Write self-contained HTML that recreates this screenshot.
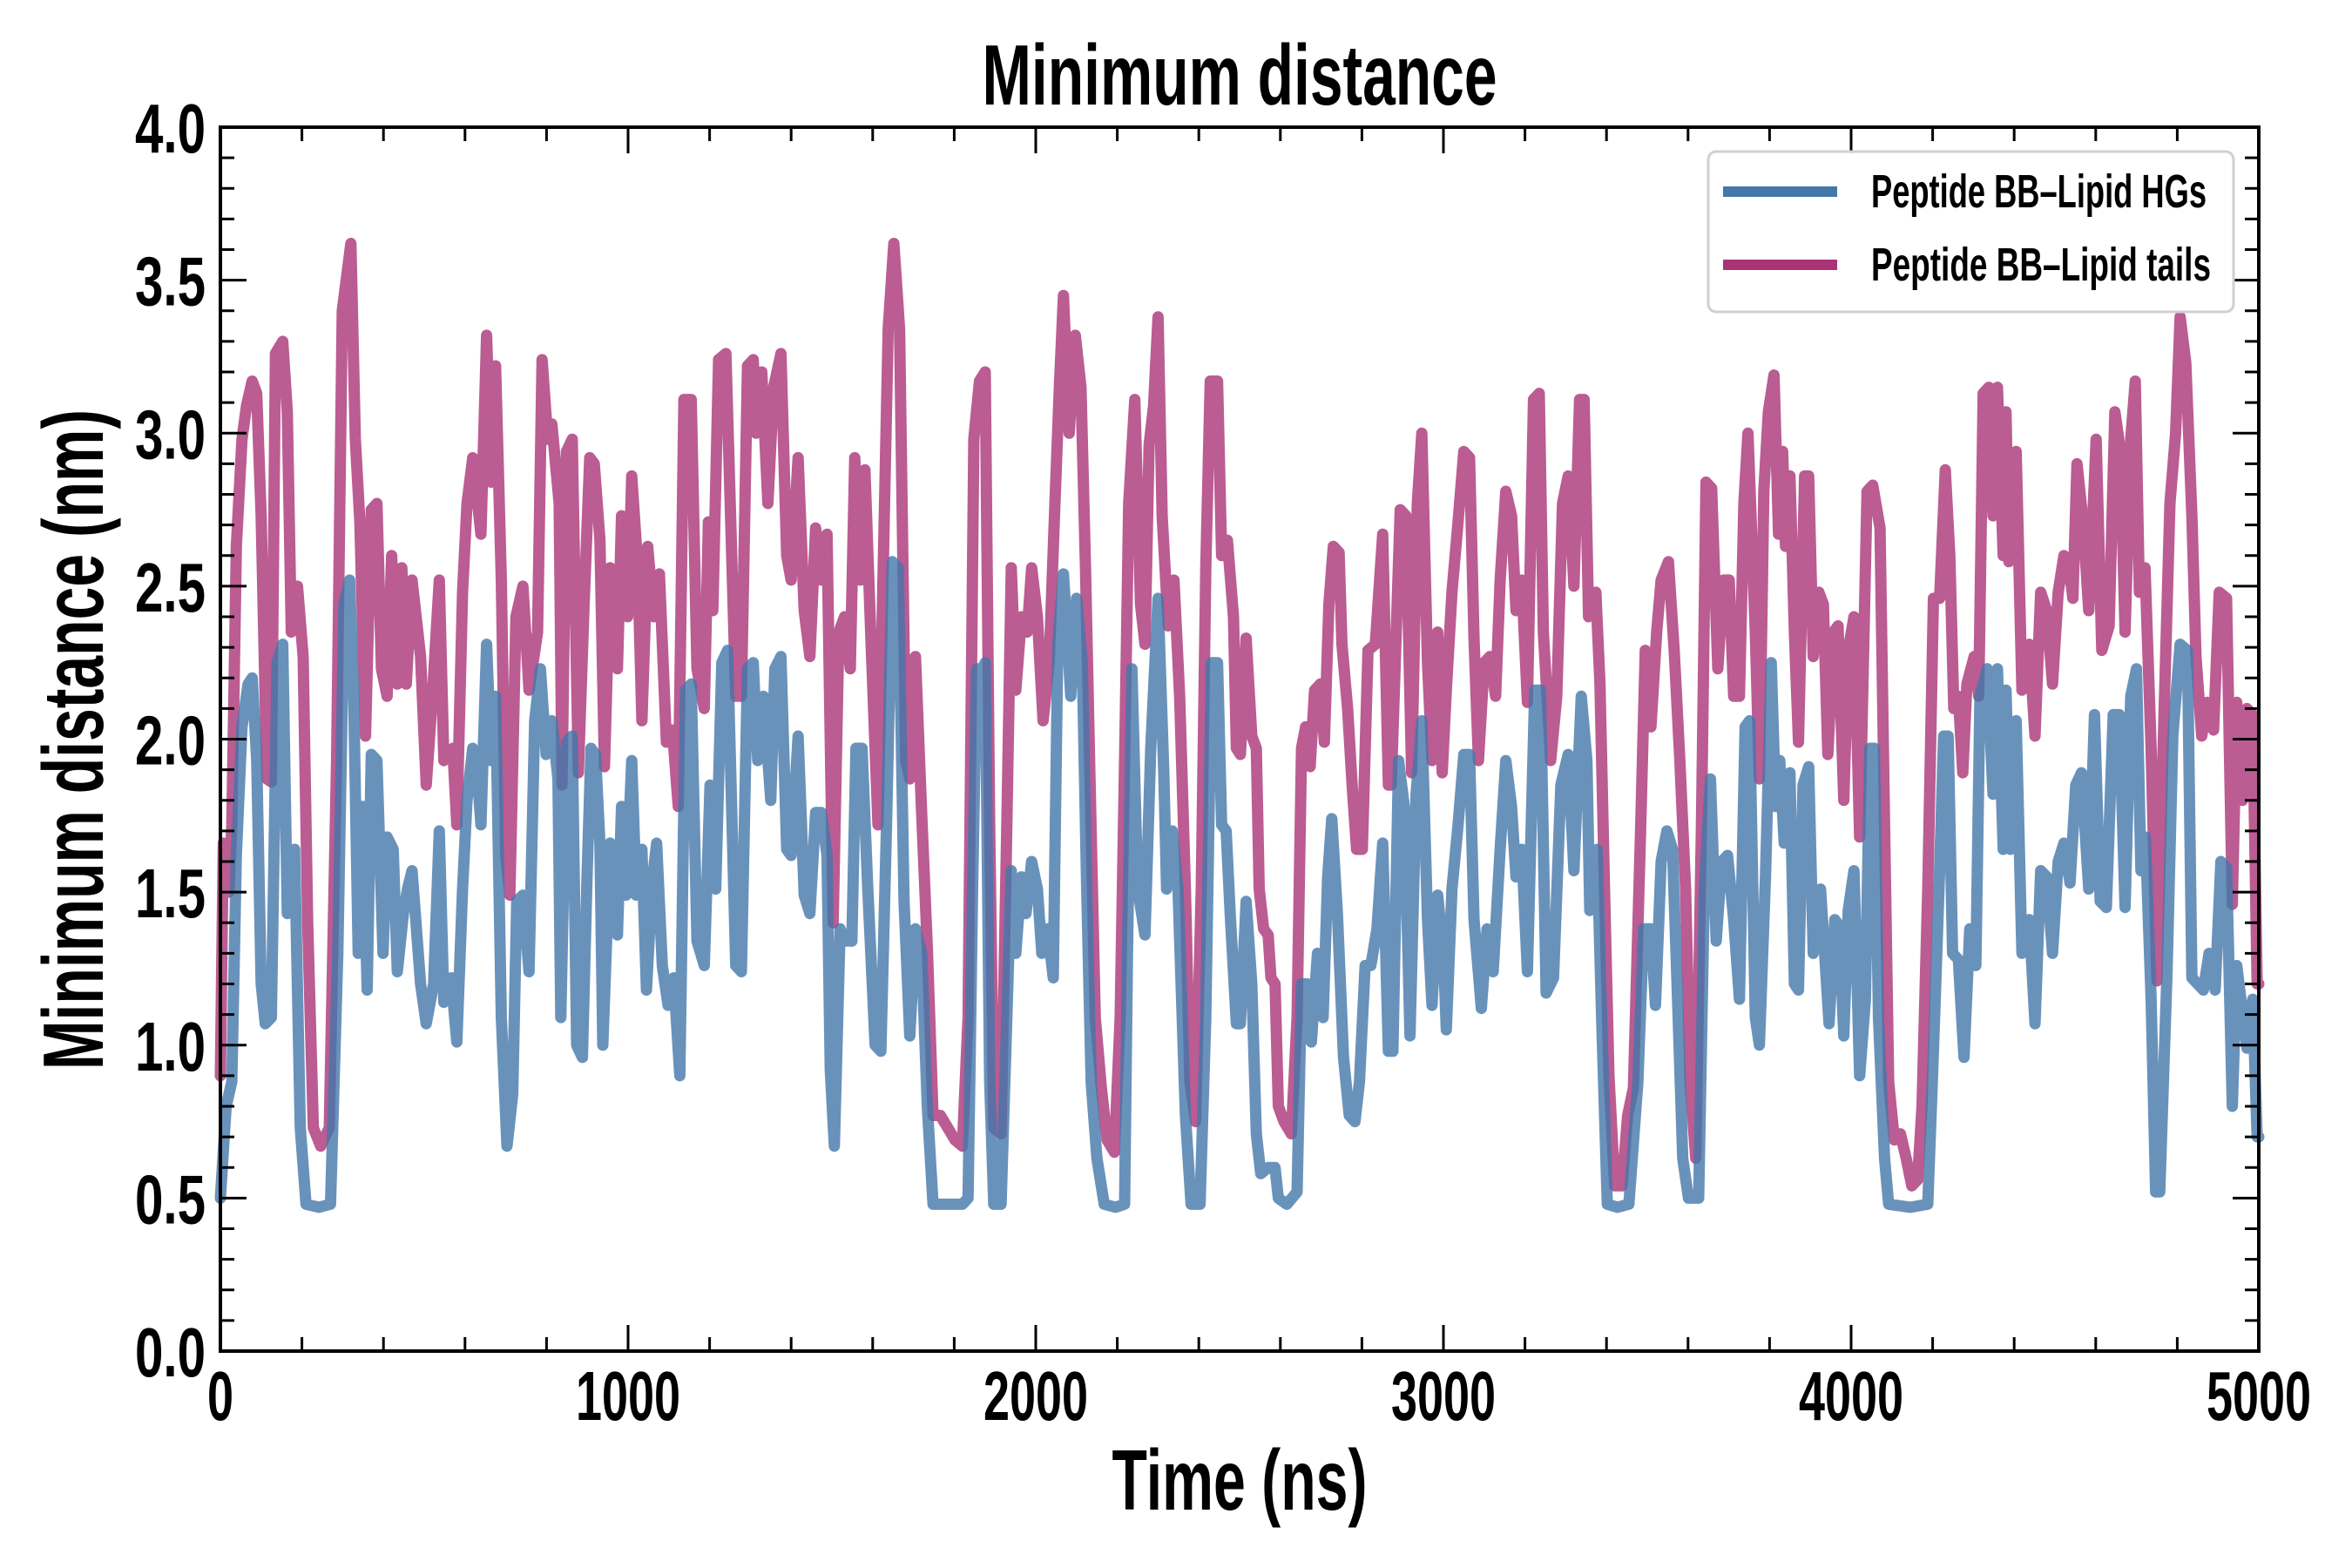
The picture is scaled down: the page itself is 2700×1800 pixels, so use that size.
<!DOCTYPE html>
<html><head><meta charset="utf-8"><style>
html,body{margin:0;padding:0;background:#fff;}
svg{display:block;}
text{font-family:"Liberation Sans",sans-serif;font-weight:bold;fill:#000;}
</style></head><body>
<svg id="chart" width="2700" height="1800" viewBox="0 0 2700 1800" xmlns="http://www.w3.org/2000/svg">
<rect x="0" y="0" width="2700" height="1800" fill="#fff"/>
<g id="series"></g>
<g id="ticks"></g>
<rect x="253" y="146" width="2340" height="1405" fill="none" stroke="#000" stroke-width="4"/>
<g id="labels"></g>
<text x="1423" y="120" font-size="98" text-anchor="middle" textLength="591" lengthAdjust="spacingAndGlyphs">Minimum distance</text>
<text x="1423" y="1733" font-size="98" text-anchor="middle" textLength="293" lengthAdjust="spacingAndGlyphs">Time (ns)</text>
<text x="0" y="0" font-size="98" text-anchor="middle" textLength="758" lengthAdjust="spacingAndGlyphs" transform="translate(118,849) rotate(-90)">Minimum distance (nm)</text>
<g>
<rect x="1961" y="174" width="603" height="184" rx="9" ry="9" fill="#fff" fill-opacity="0.85" stroke="#d0d0d0" stroke-width="3"/>
<line x1="1978" y1="220" x2="2109" y2="220" stroke="#4477aa" stroke-width="12"/>
<text x="2148" y="238" font-size="54" textLength="385" lengthAdjust="spacingAndGlyphs">Peptide BB–Lipid HGs</text>
<line x1="1978" y1="304" x2="2109" y2="304" stroke="#aa3377" stroke-width="12"/>
<text x="2148" y="322" font-size="54" textLength="390" lengthAdjust="spacingAndGlyphs">Peptide BB–Lipid tails</text>
</g>
</svg>
<script>
const xTickValues = [0, 1000, 2000, 3000, 4000, 5000];
const xTickLabels = ["0", "1000", "2000", "3000", "4000", "5000"];
const yTickValues = [0, 0.5, 1, 1.5, 2, 2.5, 3, 3.5, 4];
const yTickLabels = ["0.0", "0.5", "1.0", "1.5", "2.0", "2.5", "3.0", "3.5", "4.0"];
const tailsSeries = [[0,0.9],[7,1.66],[21,1.5],[28,1.72],[39,2.63],[53,2.98],[64,3.09],[78,3.17],[89,3.13],[100,2.73],[114,1.87],[125,1.86],[135,3.26],[153,3.3],[164,3.07],[174,2.35],[189,2.5],[203,2.27],[214,1.4],[228,0.73],[246,0.67],[267,0.73],[285,1.93],[299,3.4],[320,3.62],[331,2.98],[342,2.71],[356,2.01],[370,2.75],[384,2.77],[395,2.23],[409,2.14],[420,2.6],[434,2.18],[445,2.56],[456,2.18],[470,2.52],[491,2.27],[505,1.85],[520,2.14],[537,2.52],[548,1.93],[570,1.97],[580,1.72],[594,2.48],[605,2.77],[619,2.92],
[639,2.67],[653,3.32],[664,2.84],[675,3.22],[689,2.52],[700,1.62],[710,1.49],[725,2.4],[742,2.5],[757,2.16],[778,2.35],[789,3.24],[803,2.98],[813,3.03],[831,2.77],[838,1.85],[849,2.94],[863,2.98],[878,1.89],[892,2.44],[906,2.92],[917,2.9],[931,2.65],[942,1.91],[956,2.56],[974,2.23],[984,2.73],[999,2.4],[1009,2.86],[1024,2.56],[1034,2.06],[1048,2.63],[1063,2.4],[1077,2.54],[1094,1.99],[1109,2.03],[1123,1.78],[1137,3.11],[1155,3.11],[1169,2.23],[1187,2.1],[1197,2.71],[1208,2.42],[1222,3.24],[1240,3.26],
[1264,2.14],[1278,2.14],[1293,3.22],[1307,3.24],[1314,3.0],[1328,3.2],[1343,2.77],[1357,3.15],[1375,3.26],[1389,2.6],[1400,2.52],[1417,2.92],[1432,2.42],[1446,2.27],[1460,2.69],[1474,2.52],[1488,2.67],[1503,1.4],[1517,2.35],[1531,2.4],[1545,2.23],[1556,2.92],[1570,2.52],[1581,2.88],[1595,2.35],[1613,1.72],[1627,2.63],[1638,3.34],[1652,3.62],[1666,3.34],[1681,1.93],[1691,1.87],[1705,2.27],[1720,1.76],[1734,1.32],[1748,0.77],[1766,0.77],[1784,0.73],[1802,0.69],[1820,0.67],[1834,1.09],[1848,2.98],[1862,3.17],[1876,3.2],[1887,1.72],[1897,0.73],[1915,0.71],[1929,1.72],[1940,2.56],[1951,2.16],[1965,2.4],[1979,2.35],[1990,2.56],[2004,2.4],[2018,2.06],[2033,2.25],[2047,2.77],[2058,3.15],[2068,3.45],[2082,3.0],[2097,3.32],[2111,3.15],[2122,2.56],[2132,1.93],[2146,1.09],[2161,0.86],[2175,0.69],[2193,0.65],[2207,1.09],[2218,1.93],[2228,2.77],[2243,3.11],[2257,2.44],[2268,2.31],[2278,2.96],[2289,3.09],[2300,3.38],[2310,2.73],[2325,2.37],[2339,2.52],[2353,2.14],[2367,1.51],[2378,0.88],[2392,0.75],[2406,1.51],[2417,2.56],[2428,3.17],[2446,3.17],[2456,2.6],[2470,2.65],[2485,2.4],[2492,1.97],
[2502,1.95],[2516,2.33],[2530,2.01],[2541,1.97],[2548,1.51],[2559,1.38],[2570,1.36],[2577,1.22],[2587,1.2],[2595,0.8],[2609,0.75],[2627,0.71],[2641,1.09],[2652,1.97],[2662,2.04],[2673,1.91],[2684,2.16],[2698,2.18],[2708,1.99],[2719,2.44],[2730,2.63],[2744,2.61],[2751,2.31],[2765,2.1],[2776,1.85],[2787,1.64],[2801,1.64],[2815,2.29],[2833,2.31],[2851,2.67],[2865,1.85],[2872,1.85],[2894,2.75],[2908,2.73],[2922,1.89],[2936,2.77],[2947,3.0],[2961,2.25],[2972,1.93],[2986,2.35],[2997,1.89],[3007,2.16],[3021,2.48],[3036,2.71],[3050,2.94],[3064,2.92],[3075,2.33],[3086,1.93],[3100,2.25],[3114,2.27],
[3128,2.14],[3139,2.52],[3153,2.81],[3167,2.73],[3178,2.42],[3192,2.52],[3206,2.12],[3221,3.11],[3235,3.13],[3245,2.35],[3263,1.93],[3278,2.14],[3292,2.77],[3306,2.86],[3320,2.5],[3334,3.11],[3345,3.11],[3356,2.4],[3374,2.48],[3384,2.18],[3395,1.51],[3406,0.9],[3420,0.54],[3438,0.54],[3452,0.77],[3466,0.86],[3484,1.72],[3495,2.29],[3509,2.04],[3523,2.35],[3534,2.52],[3552,2.58],[3566,2.29],[3580,1.93],[3594,1.51],[3605,0.88],[3619,0.63],[3633,1.72],[3644,2.84],[3658,2.82],[3673,2.23],[3687,2.52],[3701,2.52],[3712,2.14],[3726,2.14],[3737,2.77],[3747,3.0],
[3765,2.35],[3775,1.87],[3786,2.81],[3797,3.07],[3811,3.19],[3822,2.67],[3832,2.94],[3839,2.63],[3850,2.86],[3861,2.35],[3871,1.99],[3886,2.86],[3896,2.86],[3907,2.27],[3921,2.48],[3932,2.44],[3943,1.95],[3957,2.35],[3968,2.37],[3982,1.8],[3993,2.29],[4007,2.4],[4021,1.68],[4039,2.81],[4053,2.83],[4071,2.69],[4082,1.72],[4092,0.88],[4106,0.69],[4121,0.71],[4135,0.63],[4149,0.54],[4163,0.56],[4174,0.8],[4188,1.51],[4202,2.46],[4217,2.46],[4231,2.88],[4242,2.6],[4252,2.1],[4263,2.14],[4274,1.89],[4284,2.18],[4302,2.27],[4313,2.14],[4324,3.13],[4338,3.15],[4348,2.73],[4359,3.15],[4373,2.6],
[4380,3.07],[4387,2.58],[4405,2.94],[4419,2.16],[4437,2.31],[4451,2.01],[4465,2.48],[4480,2.42],[4494,2.18],[4508,2.48],[4522,2.6],[4533,2.58],[4544,2.46],[4554,2.9],[4569,2.71],[4583,2.42],[4601,2.98],[4615,2.29],[4633,2.37],[4647,3.07],[4661,2.94],[4672,2.35],[4686,2.98],[4697,3.17],[4707,2.48],[4721,2.56],[4736,1.97],[4750,1.21],[4768,2.1],[4782,2.77],[4796,3.0],[4807,3.38],[4821,3.23],[4836,2.73],[4846,2.27],[4860,2.01],[4874,2.12],[4889,2.03],[4903,2.48],[4921,2.46],[4935,1.46],[4946,2.12],[4960,1.8],[4971,2.1],[4985,2.08],[4996,1.2],[5000,1.2]];
const hgSeries = [[0,0.5],[14,0.8],[28,0.88],[39,1.62],[53,2.04],[68,2.18],[78,2.2],[89,1.93],[100,1.2],[110,1.07],[125,1.09],[139,2.25],[153,2.31],[164,1.43],[182,1.64],[196,0.73],[210,0.48],[242,0.47],[270,0.48],[288,1.3],[303,2.44],[317,2.52],[327,2.14],[338,1.3],[349,1.78],[360,1.18],[370,1.95],[384,1.93],[399,1.3],[409,1.68],[424,1.64],[434,1.24],[449,1.43],[459,1.51],[470,1.57],[491,1.2],[505,1.07],[523,1.2],[537,1.7],[548,1.14],[566,1.22],[580,1.01],[594,1.51],[605,1.8],[619,1.97],[632,1.85],
[639,1.72],[653,2.31],[664,1.93],[675,2.14],[689,1.09],[703,0.67],[717,0.84],[727,1.47],[742,1.49],[757,1.24],[771,2.06],[785,2.23],[799,1.95],[813,2.06],[828,1.87],[835,1.09],[849,1.99],[863,2.01],[874,1.0],[888,0.96],[899,1.53],[909,1.97],[920,1.95],[931,1.66],[938,1.0],[956,1.66],[974,1.36],[984,1.78],[995,1.49],[1009,1.93],[1020,1.49],[1034,1.64],[1045,1.18],[1059,1.53],[1070,1.66],[1084,1.26],[1098,1.13],[1112,1.22],[1127,0.9],[1141,2.16],[1155,2.18],[1169,1.34],[1187,1.26],[1201,1.85],[1215,1.51],[1230,2.25],[1244,2.29],
[1264,1.26],[1278,1.24],[1293,2.23],[1307,2.25],[1318,1.93],[1332,2.14],[1350,1.8],[1360,2.23],[1375,2.27],[1389,1.64],[1400,1.62],[1417,2.01],[1432,1.49],[1446,1.43],[1460,1.76],[1474,1.76],[1488,1.62],[1496,0.92],[1506,0.67],[1520,1.38],[1534,1.34],[1549,1.34],[1559,1.97],[1574,1.97],[1588,1.51],[1606,1.0],[1620,0.98],[1634,1.72],[1648,2.58],[1663,2.56],[1677,1.47],[1691,1.03],[1705,1.38],[1720,1.3],[1734,0.8],[1748,0.48],[1784,0.48],[1820,0.48],[1834,0.5],[1845,1.51],[1855,2.23],[1869,2.23],
[1876,2.25],[1887,0.88],[1897,0.48],[1915,0.48],[1929,1.09],[1940,1.57],[1951,1.3],[1965,1.55],[1976,1.43],[1990,1.6],[2004,1.51],[2015,1.3],[2029,1.38],[2043,1.22],[2054,2.31],[2068,2.54],[2086,2.14],[2100,2.46],[2114,2.25],[2125,1.51],[2136,0.88],[2150,0.63],[2168,0.48],[2196,0.47],[2218,0.48],[2225,1.3],[2236,2.23],[2250,1.51],[2268,1.36],[2282,1.97],[2300,2.46],[2314,1.89],[2321,1.51],[2335,1.7],[2349,1.51],[2367,0.77],[2381,0.48],[2403,0.48],[2417,1.09],[2431,2.25],[2446,2.25],[2456,1.72],[2467,1.7],[2477,1.43],[2492,1.07],
[2502,1.07],[2516,1.47],[2530,1.2],[2541,0.71],[2552,0.58],[2570,0.6],[2587,0.6],[2595,0.5],[2616,0.48],[2641,0.52],[2652,1.2],[2666,1.2],[2676,1.01],[2691,1.3],[2705,1.09],[2716,1.55],[2726,1.74],[2740,1.43],[2755,0.96],[2769,0.77],[2783,0.75],[2794,0.88],[2808,1.26],[2822,1.26],[2837,1.38],[2851,1.66],[2865,0.98],[2876,0.98],[2890,1.93],[2904,1.78],[2918,1.03],[2933,1.82],[2947,2.06],[2961,1.41],[2972,1.13],[2986,1.49],[3000,1.3],[3007,1.05],[3021,1.51],[3036,1.72],[3050,1.95],[3064,1.95],[3075,1.41],[3093,1.12],[3107,1.38],[3122,1.24],
[3139,1.64],[3153,1.93],[3167,1.78],[3178,1.55],[3192,1.64],[3206,1.24],[3224,2.16],[3238,2.16],[3252,1.17],[3270,1.22],[3288,1.85],[3306,1.95],[3320,1.57],[3338,2.14],[3352,1.93],[3359,1.44],[3377,1.64],[3388,1.09],[3402,0.48],[3427,0.47],[3455,0.48],[3477,0.88],[3491,1.38],[3509,1.38],[3520,1.13],[3534,1.6],[3548,1.7],[3562,1.64],[3573,1.2],[3587,0.63],[3601,0.5],[3626,0.5],[3640,1.51],[3655,1.87],[3669,1.34],[3683,1.6],[3697,1.62],[3712,1.41],[3726,1.15],[3740,2.04],[3751,2.06],
[3765,1.09],[3775,1.0],[3790,1.55],[3804,2.25],[3815,1.78],[3825,1.93],[3836,1.66],[3850,1.89],[3861,1.2],[3871,1.18],[3882,1.85],[3896,1.91],[3907,1.3],[3925,1.51],[3936,1.28],[3946,1.07],[3960,1.41],[3971,1.39],[3982,1.03],[3993,1.44],[4007,1.57],[4021,0.9],[4035,1.15],[4046,1.97],[4057,1.97],[4067,1.09],[4082,0.63],[4092,0.48],[4146,0.47],[4188,0.48],[4202,0.98],[4217,1.57],[4227,2.01],[4238,2.01],[4249,1.3],[4263,1.28],[4277,0.96],[4291,1.38],[4306,1.26],[4316,2.14],[4334,2.23],[4348,1.82],[4359,2.23],[4373,1.64],
[4380,2.16],[4391,1.64],[4405,2.06],[4419,1.3],[4437,1.41],[4451,1.07],[4465,1.57],[4480,1.55],[4494,1.3],[4508,1.6],[4522,1.66],[4537,1.53],[4551,1.85],[4565,1.89],[4583,1.51],[4597,2.08],[4611,1.47],[4626,1.45],[4643,2.08],[4658,2.08],[4672,1.45],[4686,2.14],[4700,2.23],[4711,1.57],[4722,1.68],[4736,1.15],[4747,0.52],[4757,0.52],[4775,1.24],[4789,2.01],[4807,2.31],[4825,2.29],[4836,1.22],[4850,1.2],[4864,1.18],[4878,1.3],[4893,1.18],[4907,1.6],[4921,1.58],[4935,0.8],[4946,1.26],[4971,0.99],[4985,1.15],[4996,0.7],[5000,0.7]];

const NS = "http://www.w3.org/2000/svg";
const L = 253, R = 2593, T = 146, B = 1551;
const xMin = 0, xMax = 5000, yMin = 0, yMax = 4;
function xScale(v) { return L + (v - xMin) / (xMax - xMin) * (R - L); }
function yScale(v) { return B - (v - yMin) / (yMax - yMin) * (B - T); }

function drawLine(series, color, name) {
  const d = series.map((p, i) => (i ? "L" : "M") + xScale(p[0]).toFixed(1) + " " + yScale(p[1]).toFixed(1)).join(" ");
  const path = document.createElementNS(NS, "path");
  path.setAttribute("d", d);
  path.setAttribute("fill", "none");
  path.setAttribute("stroke", color);
  path.setAttribute("stroke-opacity", "0.8");
  path.setAttribute("stroke-width", "13");
  path.setAttribute("stroke-linejoin", "round");
  path.setAttribute("stroke-linecap", "round");
  
  
  document.getElementById("series").appendChild(path);
}
drawLine(tailsSeries, "#aa3377", "line-lipid-tails");
drawLine(hgSeries, "#4477aa", "line-lipid-hgs");

const tg = document.getElementById("ticks");
function tick(x1, y1, x2, y2, w, name) {
  const l = document.createElementNS(NS, "line");
  l.setAttribute("x1", x1); l.setAttribute("y1", y1);
  l.setAttribute("x2", x2); l.setAttribute("y2", y2);
  l.setAttribute("stroke", "#000"); l.setAttribute("stroke-width", w);
  
  
  tg.appendChild(l);
}
for (let v = 0; v <= 5000; v += 200) {
  const x = xScale(v);
  const major = v % 1000 === 0;
  const len = major ? 30 : 16;
  tick(x, B, x, B - len, 3, major ? "x-major-tick" : "x-minor-tick");
  tick(x, T, x, T + len, 3, major ? "x-major-tick-top" : "x-minor-tick-top");
}
for (let k = 0; k <= 40; k++) {
  const v = k / 10;
  const y = yScale(v);
  const major = k % 5 === 0;
  const len = major ? 30 : 16;
  tick(L, y, L + len, y, 3, major ? "y-major-tick" : "y-minor-tick");
  tick(R, y, R - len, y, 3, major ? "y-major-tick-right" : "y-minor-tick-right");
}

const lg = document.getElementById("labels");
xTickValues.forEach((v, i) => {
  const t = document.createElementNS(NS, "text");
  t.setAttribute("x", xScale(v));
  t.setAttribute("y", 1630);
  t.setAttribute("font-size", "80");
  t.setAttribute("text-anchor", "middle");
  t.setAttribute("textLength", xTickLabels[i].length * 30);
  t.setAttribute("lengthAdjust", "spacingAndGlyphs");
  t.textContent = xTickLabels[i];
  
  
  lg.appendChild(t);
});
yTickValues.forEach((v, i) => {
  const t = document.createElementNS(NS, "text");
  t.setAttribute("x", 236);
  t.setAttribute("y", yScale(v) + 29);
  t.setAttribute("font-size", "80");
  t.setAttribute("text-anchor", "end");
  t.setAttribute("textLength", 81);
  t.setAttribute("lengthAdjust", "spacingAndGlyphs");
  t.textContent = yTickLabels[i];
  
  
  lg.appendChild(t);
});
</script>
</body></html>
